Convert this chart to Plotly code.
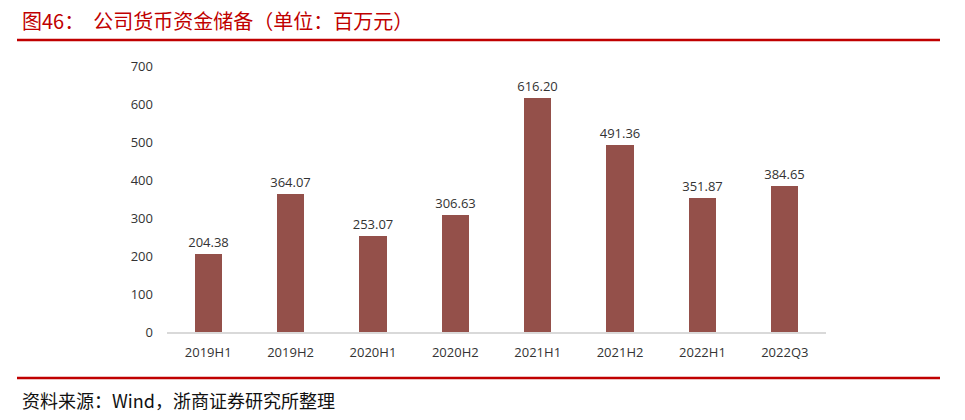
import plotly.graph_objects as go

categories = ["2019H1", "2019H2", "2020H1", "2020H2", "2021H1", "2021H2", "2022H1", "2022Q3"]
values = [204.38, 364.07, 253.07, 306.63, 616.20, 491.36, 351.87, 384.65]
y_ticks = [0, 100, 200, 300, 400, 500, 600, 700]

title_text = "图46：  公司货币资金储备（单位：百万元）"
source_text = "资料来源：Wind，浙商证券研究所整理"

PW, PH = 659, 266

fig = go.Figure()
fig.add_trace(go.Bar(
    x=categories, y=values,
    marker=dict(color="#94504A", line=dict(width=0)),
    width=0.33,
    text=[f"{v:.2f}" for v in values],
    textposition="outside",
    constraintext="none",
    textfont=dict(family="Open Sans, Liberation Sans", size=13, color="#333333"),
    cliponaxis=False,
))

fig.update_layout(
    width=965, height=420,
    margin=dict(l=167, r=139, t=66, b=88),
    paper_bgcolor="white", plot_bgcolor="white",
    showlegend=False,
    bargap=0,
    xaxis=dict(
        type="category",
        showgrid=False, showline=True, linecolor="#D9D9D9", linewidth=1.5,
        ticks="", tickfont=dict(family="Open Sans, Liberation Sans", size=13, color="#333333"),
        ticklabelstandoff=8,
    ),
    yaxis=dict(
        range=[0, 700], tickvals=y_ticks,
        showgrid=False, showline=False, zeroline=False,
        ticks="", tickfont=dict(family="Open Sans, Liberation Sans", size=13, color="#333333"),
        ticklabelstandoff=13,
    ),
    shapes=[
        dict(type="line", xref="paper", yref="paper",
             x0=-150/PW, x1=(940-167)/PW, y0=1 + 26/PH, y1=1 + 26/PH,
             line=dict(color="#C00000", width=2.5)),
        dict(type="line", xref="paper", yref="paper",
             x0=-150/PW, x1=(940-167)/PW, y0=-46/PH, y1=-46/PH,
             line=dict(color="#C00000", width=2.5)),
    ],
    annotations=[
        dict(text=title_text, xref="paper", yref="paper",
             x=(20-167)/PW, y=1 + 46/PH, xanchor="left", yanchor="middle",
             showarrow=False,
             font=dict(family="Noto Sans CJK SC", size=20, color="#C00000")),
        dict(text=source_text, xref="paper", yref="paper",
             x=(20-167)/PW, y=-68/PH, xanchor="left", yanchor="middle",
             showarrow=False,
             font=dict(family="Noto Sans CJK SC", size=18, color="#111111")),
    ],
)

fig.write_html("out.html")
